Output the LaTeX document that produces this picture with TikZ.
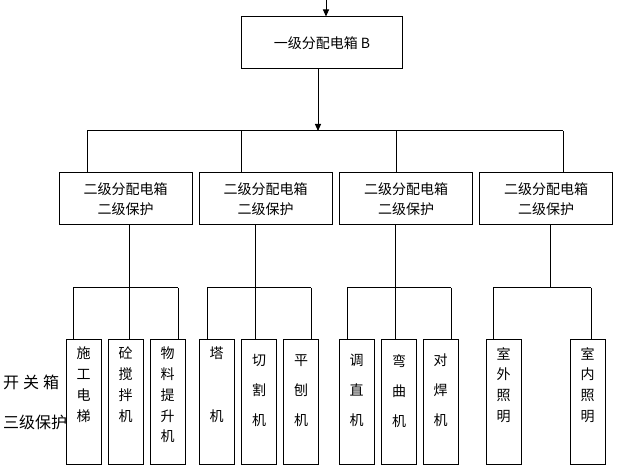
\documentclass[tikz,border=0pt]{standalone}
\usepackage{fontspec}
\setmainfont{Noto Sans CJK SC}
\usetikzlibrary{positioning,arrows.meta}
\tikzset{
  box/.style={draw, line width=1pt, align=center, inner sep=0pt},
  leaf/.style={draw, line width=1pt, anchor=north, minimum width=35pt, minimum height=125pt, inner sep=0pt},
  four/.style={anchor=north, align=center, inner sep=0pt, font=\fontsize{14}{20.7}\selectfont, yshift=0pt},
  three/.style={anchor=north, align=center, inner sep=0pt, font=\fontsize{14}{30}\selectfont, yshift=-7pt},
  side/.style={anchor=west, inner sep=0pt, font=\fontsize{16}{18}\selectfont},
  wire/.style={line width=1pt},
  arr/.style={wire, -{Triangle[length=7pt,width=6pt]}}}

\begin{document}
\begin{tikzpicture}[x=1pt, y=-1pt, font=\fontsize{14}{20}\selectfont]
\useasboundingbox (0,0) rectangle (619,470);
% first level
\node[box, minimum width=161pt, minimum height=52pt] (top) at (322,43) {一级分配电箱 B};
\coordinate (in) at (326,0);
\draw[arr] (in) -- (in |- top.north);
\coordinate (bus) at (318,131);
\draw[arr] (bus |- top.south) -- (bus);
% second level
\foreach \x/\up/\dn [count=\i] in {125.5/87/129, 265.5/241/255, 406/396/395, 546/563/550} {
  \node[box, minimum width=133pt, minimum height=52pt] (m\i) at (\x,199) {二级分配电箱\\二级保护};
  \coordinate (u\i) at (\up,131);
  \coordinate (d\i) at (\dn,288);
  \draw[wire] (u\i) -- (u\i |- m\i.north);
  \draw[wire] (m\i.south -| d\i) -- (d\i);}
\draw[wire] (u1) -- (u4);
% switch boxes
\foreach \x/\w/\sty/\txt [count=\j] in {
    83.5/73/four/{施\\工\\电\\梯},
    125.5/129/four/{砼\\搅\\拌\\机},
    167.5/178/four/{物\\料\\提\\升\\机},
    216.5/207/four/{塔\\[41.4pt]机},
    259/255/three/{切\\割\\机},
    301/311/three/{平\\刨\\机},
    356.5/347/three/{调\\直\\机},
    399/395/three/{弯\\曲\\机},
    440.5/451/three/{对\\焊\\机},
    503.5/493/four/{室\\外\\照\\明},
    587.5/591/four/{室\\内\\照\\明}} {
  \node[leaf] (l\j) at (\x,339) {};
  \node[\sty] (t\j) at (\x,347) {\txt};
  \coordinate (e\j) at (\w,288);
  \draw[wire] (e\j) -- (e\j |- l\j.north);}
\draw[wire] (e1) -- (e3);
\draw[wire] (e4) -- (e6);
\draw[wire] (e7) -- (e9);
\draw[wire] (e10) -- (e11);
\node[side] (kgx) at (3,382) {开\hspace{4pt}关\hspace{4pt}箱};
\node[side] (sjbh) at (3,422) {三级保护};
\end{tikzpicture}
\end{document}
